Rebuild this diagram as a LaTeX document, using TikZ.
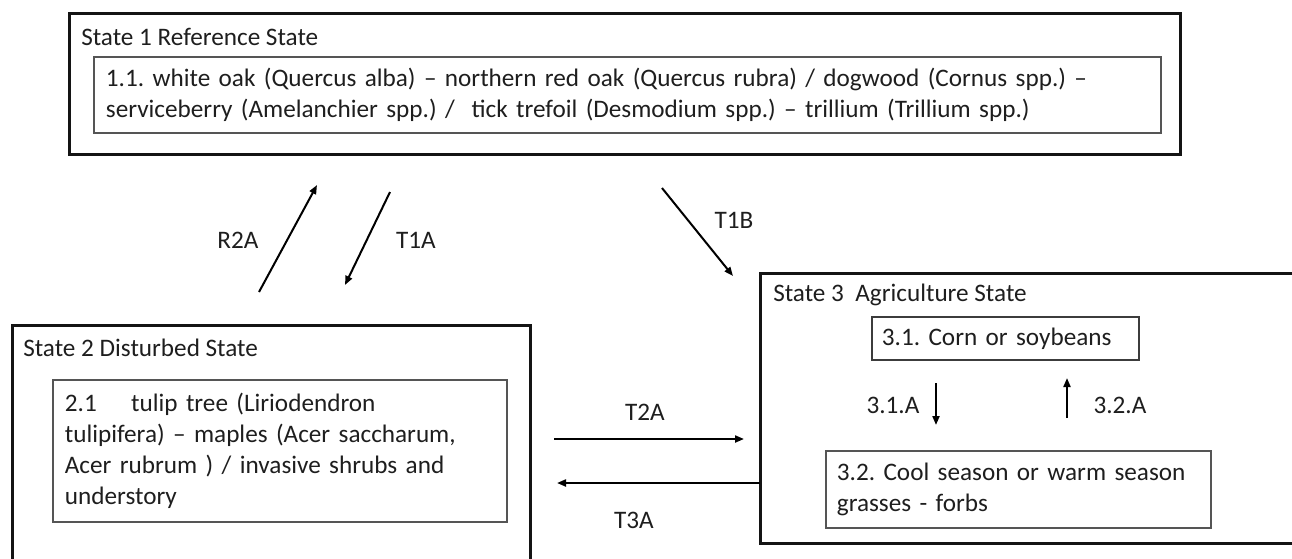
\documentclass[tikz,border=0pt]{standalone}
\usepackage{fontspec}
\setmainfont{Carlito}
\frenchspacing
\usetikzlibrary{arrows.meta}

\tikzset{every picture/.style={line width=0.75pt}}
\tikzset{
  statebox/.style={draw={rgb,255:red,20;green,20;blue,20}, line width=1.5pt},
  phasebox/.style={draw={rgb,255:red,85;green,85;blue,85}, line width=0.9pt, align=left, inner ysep=0pt, anchor=north west},
  lbl/.style={inner sep=0.75pt, text={rgb,255:red,30;green,30;blue,30}},
  trans/.style={line width=1pt, -{Triangle[length=4.5pt,width=3.5pt]}},
  every node/.style={font=\fontsize{12.6}{15.5}\selectfont}
}

\begin{document}
\begin{tikzpicture}[x=0.5pt,y=0.5pt,yscale=-1,xscale=1]
\useasboundingbox (0,0) rectangle (1292,558);

%Shape: Rectangle [State 1]
\draw [statebox] (69,13) rectangle (1180,154) ;
%Shape: Rectangle [State 2]
\draw [statebox] (12,325) rectangle (530,575) ;
%Shape: Rectangle [State 3]
\draw [statebox] (760,273) rectangle (1310,543) ;

% Text Node
\node (st1) [lbl, anchor=west] at (79,37) {State 1 Reference State};
% Text Node
\node (st2) [lbl, anchor=west] at (21,348) {State 2 Disturbed State};
% Text Node
\node (st3) [lbl, anchor=west] at (771,295) {State 3\ \ Agriculture State};

% Text Node
\node (p11) [phasebox, lbl, draw={rgb,255:red,85;green,85;blue,85}, inner xsep=6pt, text width=521.5pt, minimum height=38pt] at (93,56)
  {\mbox{1.1. white oak (Quercus alba) -- northern red oak (Quercus rubra) / dogwood (Cornus spp.) --}\\
   \mbox{serviceberry (Amelanchier spp.) /\ \ tick trefoil (Desmodium spp.) -- trillium (Trillium spp.)}};
% Text Node
\node (p21) [phasebox, lbl, draw={rgb,255:red,85;green,85;blue,85}, inner xsep=6pt, text width=215pt, minimum height=71pt] at (52,379)
  {\mbox{2.1\hspace{13pt} tulip tree (Liriodendron}\\
   \mbox{tulipifera) -- maples (Acer saccharum,}\\
   \mbox{Acer rubrum ) / invasive shrubs and}\\
   understory};
% Text Node
\node (p31) [phasebox, lbl, draw={rgb,255:red,60;green,60;blue,60}, inner xsep=5pt, text width=123.5pt, minimum height=21.5pt] at (871,316)
  {\mbox{3.1. Corn or soybeans}};
% Text Node
\node (p32) [phasebox, lbl, draw={rgb,255:red,85;green,85;blue,85}, inner xsep=5.5pt, text width=181.5pt, minimum height=38.5pt] at (825,450)
  {\mbox{3.2. Cool season or warm season}\\
   grasses - forbs};

%Straight Lines [transition ends]
\coordinate (r2a0) at (259,292) ;  \coordinate (r2a1) at (317,185) ;
\coordinate (t1a0) at (390,192) ;  \coordinate (t1a1) at (345,285) ;
\coordinate (t1b0) at (662,188) ;  \coordinate (t1b1) at (733,276) ;
\coordinate (t2a0) at (554,439) ;  \coordinate (t2a1) at (744,439) ;
\coordinate (t3a0) at (760,483) ;  \coordinate (t3a1) at (557,483) ;
\coordinate (p31a0) at (936,383) ; \coordinate (p31a1) at (936,425) ;
\coordinate (p32a0) at (1067,418) ; \coordinate (p32a1) at (1067,378) ;

\draw [trans] (r2a0) -- (r2a1) ;
\draw [trans] (t1a0) -- (t1a1) ;
\draw [trans] (t1b0) -- (t1b1) ;
\draw [trans] (t2a0) -- (t2a1) ;
\draw [trans] (t3a0) -- (t3a1) ;
\draw [trans] (p31a0) -- (p31a1) ;
\draw [trans] (p32a0) -- (p32a1) ;

% Text Node
\node (lr2a) [lbl] at (238,240) {R2A};
% Text Node
\node (lt1a) [lbl] at (416,240) {T1A};
% Text Node
\node (lt1b) [lbl] at (734,220) {T1B};
% Text Node
\node (lt2a) [lbl] at (645,412) {T2A};
% Text Node
\node (lt3a) [lbl] at (634,520) {T3A};
% Text Node
\node (lp31a) [lbl] at (893,405) {3.1.A};
% Text Node
\node (lp32a) [lbl] at (1120,405) {3.2.A};

\end{tikzpicture}
\end{document}
